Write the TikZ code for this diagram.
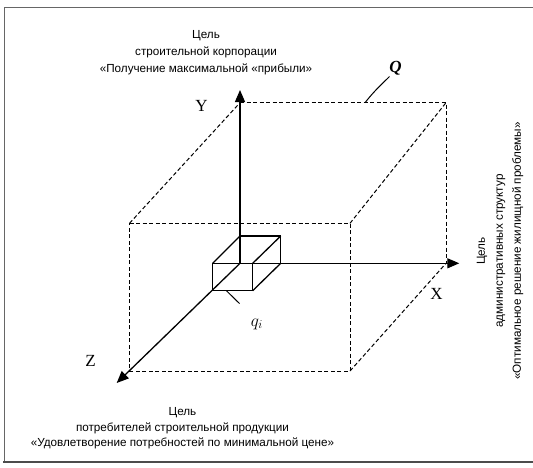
\documentclass[tikz,border=0pt]{standalone}
\usepackage{fontspec}
\setmainfont{Liberation Sans}
\newfontfamily\serifrm{Liberation Serif}
\usetikzlibrary{arrows.meta}
\begin{document}
\begin{tikzpicture}[x=1pt,y=-1pt,
  axis/.style={line width=1.3pt, -{Triangle[length=12pt,width=10pt]}},
  hid/.style={line width=1pt, dash pattern=on 4pt off 2.5pt},
  edge/.style={line width=1.3pt},
  goal/.style={font=\fontsize{11.7}{17}\selectfont, align=center, inner sep=0pt},
  axlabel/.style={font=\serifrm\fontsize{17}{17}\selectfont, inner sep=0pt}]
\useasboundingbox (0,0) rectangle (533,467);
\fill[white] (0,0) rectangle (533,467);
% frame
\draw[gray!80!black, line width=0.9pt] (533,7.5) -- (4,7.5) -- (4,462);
\draw[black!70, line width=2.4pt] (3,462) -- (533,462);
% big box coordinates
\coordinate (O) at (240,263.3);
\coordinate (Ytip) at (240,90);
\coordinate (Xtip) at (459.3,263.3);
\coordinate (Ztip) at (116.7,383);
\coordinate (FTL) at (129.5,223.3);
\coordinate (FTR) at (350,223.3);
\coordinate (FBR) at (350,371);
\coordinate (FBL) at (129.5,371);
\coordinate (BTL) at (240,102.7);
\coordinate (BTR) at (446,102.7);
\coordinate (BBR) at (446,263.3);
% small box
\coordinate (sFTL) at (212.7,263.3);
\coordinate (sFTR) at (252.7,263.3);
\coordinate (sFBR) at (252.7,290.7);
\coordinate (sFBL) at (212.7,290.7);
\coordinate (sBTL) at (240,236);
\coordinate (sBTR) at (280.7,236);
\coordinate (sBBR) at (280.7,263.3);
% dashed box Q
\draw[hid] (FTL) -- (FTR) -- (FBR) -- (FBL) -- cycle;
\draw[hid] (BTL) -- (BTR) -- (BBR);
\draw[hid] (FTL) -- (BTL);
\draw[hid] (FTR) -- (BTR);
\draw[hid] (FBR) -- (BBR);
% axes
\draw[axis] (O) -- (Ytip);
\draw[axis] (O) -- (Xtip);
\draw[axis] (O) -- (Ztip);
% small box q_i
\draw[edge] (sFTL) -- (sFTR) -- (sFBR) -- (sFBL) -- cycle;
\draw[edge] (sBTL) -- (sBTR) -- (sBBR);
\draw[edge] (sFTL) -- (sBTL);
\draw[edge] (sFTR) -- (sBTR);
\draw[edge] (sFBR) -- (sBBR);
% labels
\node[axlabel] (Y) at (201.5,106) {Y};
\node[axlabel] (X) at (436.5,294) {X};
\node[axlabel] (Z) at (90.5,360.5) {Z};
\node[inner sep=0pt, font=\serifrm\bfseries\itshape\fontsize{17}{17}\selectfont] (Q) at (395.5,68) {Q};
\coordinate (Qfoot) at (365,102.7);
\draw[line width=1pt] (Qfoot) .. controls (375,90) and (382,84) .. (389.5,76.5);
\node[inner sep=0pt, font=\fontsize{17}{17}\selectfont] (qi) at (257,324) {$q_i$};
\coordinate (qfoot) at (226.7,291);
\coordinate (qend) at (239.5,303.5);
\draw[line width=1pt] (qfoot) -- (qend);
% goals
\node[goal] (top) at (206,52.5) {Цель\\строительной корпорации\\«Получение максимальной «прибыли»};
\node[goal, font=\fontsize{11.7}{15.5}\selectfont] (bottom) at (182.5,428.5) {Цель\\потребителей строительной продукции\\«Удовлетворение потребностей по минимальной цене»};
\node[goal, rotate=90, font=\fontsize{11.7}{18}\selectfont] (right) at (500,251) {Цель\\административных структур\\«Оптимальное решение жилищной проблемы»};
\end{tikzpicture}
\end{document}
